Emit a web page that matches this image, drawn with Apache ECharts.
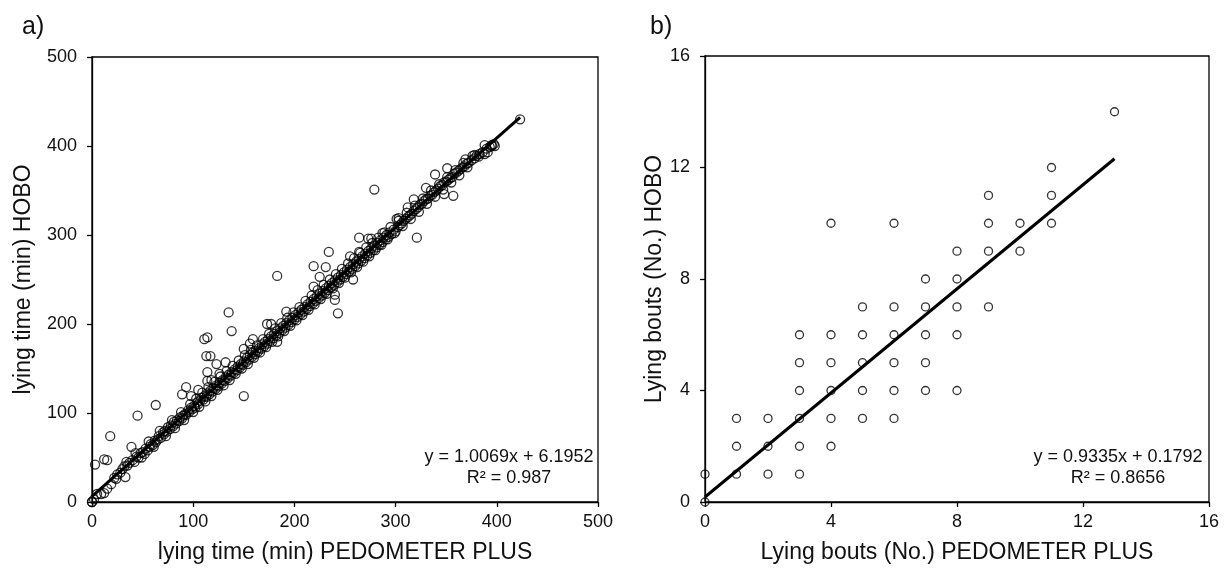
<!DOCTYPE html>
<html>
<head>
<meta charset="utf-8">
<script src="https://cdn.jsdelivr.net/npm/echarts@6/dist/echarts.min.js"></script>
<style>
html,body{margin:0;padding:0;background:#fff;}
#c{width:1230px;height:570px;}
</style>
</head>
<body>
<div id="c"></div>
<script>
// ---- Panel a) lying time (min): PEDOMETER PLUS (x) vs HOBO (y) ----
const timeX = [0,0,2,5,9,12,15,19,22,25,28,30,32,35,37,40,42,44,46,48,50,52,53,55,57,58,60,62,63,65,66,68,70,71,72,74,75,77,78,80,81,83,84,86,87,89,90,92,93,95,96,98,99,101,102,104,105,107,108,110,111,113,114,116,117,119,120,122,123,125,126,128,129,131,132,134,135,137,138,140,141,143,144,146,147,149,150,152,153,155,156,158,159,161,162,164,165,167,168,170,171,173,174,176,177,179,180,182,183,185,186,188,189,191,192,194,195,197,198,200,201,203,204,206,207,209,210,212,213,215,216,218,219,221,222,224,225,227,228,230,231,233,234,236,237,239,240,242,243,245,246,248,249,251,252,254,255,257,258,260,261,263,264,266,267,269,270,272,273,275,276,278,279,281,282,284,285,287,288,290,291,293,294,296,298,300,302,304,306,308,310,312,314,316,318,320,322,324,326,328,330,332,334,336,338,340,342,344,346,348,350,352,354,356,358,360,362,364,366,368,370,372,375,378,380,383,386,390,393,397,
  3,12,15,18,45,63,39,33,89,93,98,105,111,114,113,117,114,118,114,123,126,132,135,138,150,150,159,156,173,177,183,192,183,219,231,234,225,219,240,240,243,258,255,264,264,273,276,279,321,312,318,330,339,351,357,369,378,395,398,388,391,301,303,287,348,423];
const timeY = [0,0,3,9,9,10,15,20,27,31,33,37,40,41,44,47,45,51,50,55,56,54,60,58,62,65,64,69,67,70,74,72,78,76,80,79,84,82,86,85,90,88,92,91,95,94,97,99,98,103,101,106,104,108,106,112,110,114,117,115,119,118,122,121,125,124,128,127,131,130,134,133,137,136,140,139,143,142,146,145,149,148,152,151,155,154,158,157,162,160,165,163,168,166,170,169,173,172,177,175,180,178,183,181,186,184,189,187,192,190,195,193,198,196,201,199,204,202,207,205,210,208,213,211,216,214,219,217,222,220,225,223,228,226,231,229,234,232,237,235,240,238,243,241,246,244,249,247,252,250,255,253,258,256,261,259,264,262,267,265,270,268,273,271,276,274,279,277,282,280,285,283,288,286,291,289,294,292,297,295,300,298,303,301,306,304,309,311,313,316,318,320,322,324,327,329,331,334,335,338,340,341,344,345,348,350,352,355,356,359,360,362,364,365,369,370,372,374,376,377,380,381,384,386,389,391,393,397,399,402,
  42,48,47,74,97,109,62,28,121,129,119,126,183,185,164,164,146,137,136,155,144,157,213,192,119,172,183,178,200,200,254,214,180,265,264,281,253,242,227,233,212,250,276,297,281,296,296,351,297,331,340,353,368,375,344,385,390,400,400,391,393,318,319,302,346,430];
const timeBandX = [24,34,43,49,56,61,67,73,79,82,88,91,97,100,103,106,109,112,115,118,121,124,127,130,133,136,139,142,145,148,151,154,157,160,163,166,169,172,175,178,181,184,187,190,193,196,199,202,205,208,211,214,217,220,223,226,229,232,235,238,241,244,247,250,253,256,259,262,265,268,271,274,277,280,283,286,289,292,295,299,303,307,311,315,319,323,327,331,335,339,343,347,351,355,359,363,367,371,376,382,388,395];
const timeBandY = [26,45,55,50,68,62,80,74,92,83,101,92,110,101,116,107,123,113,129,119,135,126,141,131,147,137,153,144,159,150,165,155,171,162,176,168,183,174,189,180,195,186,201,192,207,198,213,204,219,210,226,216,232,222,238,228,244,234,250,240,256,246,262,252,268,258,274,264,280,270,286,276,291,283,297,289,303,295,309,302,316,310,325,318,333,326,341,335,350,343,357,351,365,359,373,367,381,376,389,388,401,401];
const timeFit = {slope: 1.0069, intercept: 6.1952, xStart: 0, xEnd: 423};

// ---- Panel b) lying bouts (No.): PEDOMETER PLUS (x) vs HOBO (y) ----
const boutsX = [0,0,1,1,1,2,2,2,3,3,3,3,3,3,4,4,4,4,4,4,5,5,5,5,5,6,6,6,6,6,6,7,7,7,7,7,8,8,8,8,8,9,9,9,9,10,10,11,11,11,13];
const boutsY = [0,1,1,2,3,1,2,3,1,2,3,4,5,6,2,3,4,5,6,10,3,4,5,6,7,3,4,5,6,7,10,4,5,6,7,8,4,6,7,8,9,7,9,10,11,9,10,10,11,12,14];
const boutsFit = {slope: 0.9335, intercept: 0.1792, xStart: 0, xEnd: 13};

const aTicks = {min: 0, max: 500, interval: 100};
const bTicks = {min: 0, max: 16, interval: 4};

const zip = (xs, ys) => xs.map((x, i) => [x, ys[i]]);
const fitLine = f => [[f.xStart, f.slope * f.xStart + f.intercept], [f.xEnd, f.slope * f.xEnd + f.intercept]];

const FONT = '"Liberation Sans", Arial, sans-serif';
const axisBase = {
  type: 'value',
  splitLine: {show: false},
  axisLine: {show: true, onZero: false, lineStyle: {color: '#000', width: 1.3}},
  axisTick: {show: true, inside: false, length: 5, lineStyle: {color: '#000', width: 1.3}},
  nameLocation: 'middle',
  nameTextStyle: {color: '#111', fontSize: 23, fontFamily: FONT}
};
const xLabel = {color: '#111', fontSize: 18, fontFamily: FONT, margin: 11};
const yLabel = {color: '#111', fontSize: 18, fontFamily: FONT, margin: 15};

const chart = echarts.init(document.getElementById('c'), null, {renderer: 'canvas'});
chart.setOption({
  backgroundColor: '#fff',
  animation: false,
  title: [
    {text: 'a)', left: 17, top: 10, textStyle: {fontSize: 25, fontWeight: 'normal', color: '#111', fontFamily: FONT}},
    {text: 'b)', left: 645, top: 10, textStyle: {fontSize: 25, fontWeight: 'normal', color: '#111', fontFamily: FONT}},
    {text: 'y = 1.0069x + 6.1952\nR² = 0.987', left: 504, top: 442, textAlign: 'center',
      textStyle: {fontSize: 18, fontWeight: 'normal', color: '#111', fontFamily: FONT, lineHeight: 21, align: 'center'}},
    {text: 'y = 0.9335x + 0.1792\nR² = 0.8656', left: 1113, top: 442, textAlign: 'center',
      textStyle: {fontSize: 18, fontWeight: 'normal', color: '#111', fontFamily: FONT, lineHeight: 21, align: 'center'}}
  ],
  grid: [
    {left: 92, top: 57, width: 506, height: 445, show: true, borderColor: '#000', borderWidth: 1.3, backgroundColor: 'transparent'},
    {left: 705, top: 56, width: 504, height: 446, show: true, borderColor: '#000', borderWidth: 1.3, backgroundColor: 'transparent'}
  ],
  xAxis: [
    Object.assign({}, axisBase, {gridIndex: 0, min: aTicks.min, max: aTicks.max, interval: aTicks.interval, axisLabel: xLabel,
      name: 'lying time (min) PEDOMETER PLUS', nameGap: 39}),
    Object.assign({}, axisBase, {gridIndex: 1, min: bTicks.min, max: bTicks.max, interval: bTicks.interval, axisLabel: xLabel,
      name: 'Lying bouts (No.) PEDOMETER PLUS', nameGap: 39})
  ],
  yAxis: [
    Object.assign({}, axisBase, {gridIndex: 0, min: aTicks.min, max: aTicks.max, interval: aTicks.interval, axisLabel: yLabel,
      name: 'lying time (min) HOBO', nameGap: 57}),
    Object.assign({}, axisBase, {gridIndex: 1, min: bTicks.min, max: bTicks.max, interval: bTicks.interval, axisLabel: yLabel,
      name: 'Lying bouts (No.) HOBO', nameGap: 37})
  ],
  series: [
    {type: 'scatter', xAxisIndex: 0, yAxisIndex: 0, data: zip(timeX, timeY).concat(zip(timeBandX, timeBandY)),
      symbol: 'circle', symbolSize: 9,
      itemStyle: {color: 'rgba(255,255,255,0)', borderColor: '#000', borderWidth: 1.3}, z: 3},
    {type: 'line', xAxisIndex: 0, yAxisIndex: 0, data: fitLine(timeFit), symbol: 'none',
      lineStyle: {color: '#000', width: 3}, z: 4},
    {type: 'scatter', xAxisIndex: 1, yAxisIndex: 1, data: zip(boutsX, boutsY), symbol: 'circle', symbolSize: 8,
      itemStyle: {color: 'rgba(255,255,255,0)', borderColor: '#000', borderWidth: 1.3}, z: 3},
    {type: 'line', xAxisIndex: 1, yAxisIndex: 1, data: fitLine(boutsFit), symbol: 'none',
      lineStyle: {color: '#000', width: 3}, z: 4}
  ]
});
</script>
</body>
</html>
